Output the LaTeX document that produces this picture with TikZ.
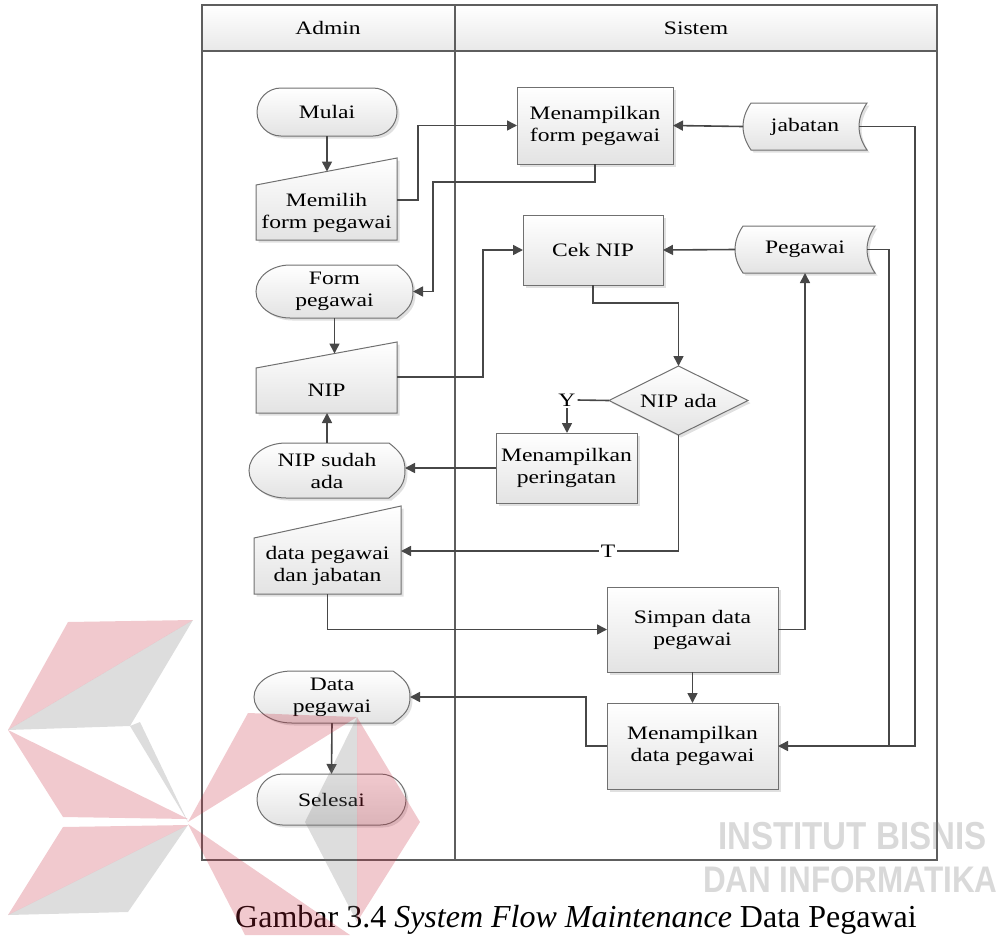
\documentclass[tikz,border=0pt]{standalone}
\usepackage{fontspec}
\setmainfont{Liberation Serif}[FakeStretch=1.24]
\newfontfamily\captionserif{Liberation Serif}
\newfontfamily\marksans{Liberation Sans}[FakeStretch=0.85]
\usetikzlibrary{arrows.meta,shadows,calc}
\pgfdeclarelayer{shapes}
\pgfsetlayers{shapes,main}

\definecolor{lineclr}{HTML}{474747}
\definecolor{boxclr}{HTML}{707070}
\definecolor{frameclr}{HTML}{5E5E5E}
\definecolor{shadeclr}{HTML}{E3E3E3}
\definecolor{markred}{HTML}{C8283C}
\definecolor{markgrey}{HTML}{787878}

% manual input: flat bottom, top edge rising to the right
\newcommand{\manualshape}[2]{%
  \path[boxfill] (#1.south west) -- (#1.north west) -- ($(#1.north east)+(0,-#2)$)
    -- (#1.south east) -- cycle;}

% display: rounded left end, curved right end
\newcommand{\displayshape}[3]{%
  \path[boxfill]
    ($(#1.north west)+(#2,0)$) -- ($(#1.north east)+(-#3,0)$)
    .. controls ($(#1.north east)!0.15!(#1.south east)+({-0.35*#3},0)$)
       and ($(#1.east)!0.5!(#1.north east)$) .. (#1.east)
    .. controls ($(#1.east)!0.5!(#1.south east)$)
       and ($(#1.south east)!0.15!(#1.north east)+({-0.35*#3},0)$) .. ($(#1.south east)+(-#3,0)$)
    -- ($(#1.south west)+(#2,0)$)
    .. controls ($(#1.south west)+({0.448*#2},0)$)
       and ($(#1.west)!0.552!(#1.south west)$) .. (#1.west)
    .. controls ($(#1.west)!0.552!(#1.north west)$)
       and ($(#1.north west)+({0.448*#2},0)$) .. ($(#1.north west)+(#2,0)$)
    -- cycle;}

% stored data: convex left side, concave right side
\newcommand{\storedshape}[2]{%
  \path[boxfill]
    ($(#1.north west)+(#2,0)$) -- (#1.north east)
    .. controls ($(#1.north east)!0.33!(#1.south east)+({-1.33*#2},0)$)
       and ($(#1.south east)!0.33!(#1.north east)+({-1.33*#2},0)$) .. (#1.south east)
    -- ($(#1.south west)+(#2,0)$)
    .. controls ($(#1.south west)!0.33!(#1.north west)+({-0.33*#2},0)$)
       and ($(#1.north west)!0.33!(#1.south west)+({-0.33*#2},0)$) .. ($(#1.north west)+(#2,0)$)
    -- cycle;}

\begin{document}
\begin{tikzpicture}[x=1pt,y=-1pt,
  every node/.style={inner sep=0pt, outer sep=0pt},
  txt/.style={font=\fontsize{19}{22}\selectfont, align=center},
  boxfill/.style={draw=boxclr, line width=1pt, top color=white, bottom color=shadeclr,
    drop shadow={shadow xshift=2.5pt, shadow yshift=-2.5pt, fill=black!40, opacity=0.3}},
  procbox/.style={boxfill, txt},
  area/.style={txt},
  flow/.style={draw=lineclr, line width=1.6pt, -{Triangle[length=10pt,width=10pt]}},
  link/.style={draw=lineclr, line width=1.6pt},
  lbl/.style={txt, inner sep=2pt},
  frameline/.style={draw=frameclr, line width=1.3pt},
  wmtext/.style={anchor=west, text=markgrey, text opacity=0.28},
]
\useasboundingbox (0,0) rectangle (1007,935);

% swimlane frame
\path[top color=white, bottom color=black!9] (202,5) rectangle (937,51);
\draw[frameline] (202,5) rectangle (937,860) (202,51) -- (937,51) (455,5) -- (455,860);
\node[txt] (hadmin) at (328,28) {Admin};
\node[txt] (hsistem) at (696,28) {Sistem};

% Admin lane
\node[procbox, rounded corners=24pt, minimum width=140pt, minimum height=48pt] (mulai) at (327,112) {Mulai};
\node[area, minimum width=141pt, minimum height=55pt] (mil) at (326.5,212.5) {Memilih\\form pegawai};
\node[area, minimum width=157pt, minimum height=53pt] (fp) at (334.5,291.5) {Form\\pegawai};
\node[area, minimum width=141pt, minimum height=45pt] (nip) at (326.5,390.5) {NIP};
\node[area, minimum width=156pt, minimum height=55pt] (nsa) at (327,470.5) {NIP sudah\\ada};
\node[area, minimum width=147pt, minimum height=56pt] (dpj) at (327.5,566) {data pegawai\\dan jabatan};
\node[area, minimum width=156pt, minimum height=52pt] (dp) at (332,697) {Data\\pegawai};
\node[procbox, rounded corners=25.5pt, minimum width=149pt, minimum height=51pt] (sel) at (331.5,799.5) {Selesai};

% Sistem lane
\node[procbox, minimum width=156pt, minimum height=77pt] (tf) at (595,125.5) {Menampilkan\\form pegawai};
\node[area, minimum width=124pt, minimum height=47pt] (jab) at (805,126.5) {jabatan};
\node[procbox, minimum width=140pt, minimum height=70pt] (cek) at (593,250) {Cek NIP};
\node[area, minimum width=140pt, minimum height=47pt] (peg) at (805,249.5) {Pegawai};
\node[area, minimum width=139pt, minimum height=69pt] (dia) at (678.5,400.5) {NIP ada};
\node[lbl] (yl) at (567,400) {Y};
\node[procbox, minimum width=141pt, minimum height=70pt] (per) at (566.5,468) {Menampilkan\\peringatan};
\node[lbl] (tl) at (608,551) {T};
\node[procbox, minimum width=171pt, minimum height=85pt] (simpan) at (692.5,629.5) {Simpan data\\pegawai};
\node[procbox, minimum width=171pt, minimum height=86pt] (tdp) at (692.5,746) {Menampilkan\\data pegawai};

% outlines of the non-rectangular symbols
\begin{pgfonlayer}{shapes}
  \manualshape{mil}{27}
  \manualshape{nip}{26}
  \manualshape{dpj}{32}
  \displayshape{fp}{34}{16}
  \displayshape{nsa}{37}{16}
  \displayshape{dp}{38}{17}
  \storedshape{jab}{8}
  \storedshape{peg}{8}
  \path[boxfill] (dia.north) -- (dia.east) -- (dia.south) -- (dia.west) -- cycle;
\end{pgfonlayer}

% entry points on the slanted tops
\coordinate (milin) at ($(mil.north)+(0,-13.5)$);
\coordinate (nipin) at ($(nip.north)+(0,-14.5)$);

% connectors
\draw[flow] (mulai.south) -- (mulai.south |- milin);
\draw[flow] ($(mil.east)+(0,-12.5)$) -- ++(21,0) |- (tf.west);
\draw[flow] (jab.west) -- (tf.east);
\draw[flow] (tf.south) -- ++(0,18) -| ($(fp.east)+(20,0)$) -- (fp.east);
\draw[flow] (fp.south) -- (fp.south |- nipin);
\draw[flow] ($(nip.east)+(0,-13.5)$) -- ++(86,0) |- (cek.west);
\draw[flow] (peg.west) -- (cek.east);
\draw[flow] (cek.south) -- ++(0,18) -| (dia.north);
\draw[link] (dia.west) -- (yl.east);
\draw[flow] (yl.south) -- (yl.south |- per.north);
\draw[flow] (per.west) -- (per.west -| nsa.east);
\draw[flow] (nsa.north) -- (nsa.north |- nip.south);
\draw[link] (dia.south) |- (tl.east);
\draw[flow] (tl.west) -- (tl.west -| dpj.east);
\draw[flow] (dpj.south) |- (simpan.west);
\draw[flow] (simpan.east) -| (peg.south);
\draw[flow] (simpan.south) -- (tdp.north);
\draw[link] ($(peg.east)+(-8,0)$) -| ($(tdp.east)+(111,0)$);
\draw[flow] ($(jab.east)+(-8,0)$) -- ++(56,0) |- (tdp.east);
\draw[flow] (tdp.west) -- ++(-21,0) |- (dp.east);
\draw[flow] (dp.south) -- (sel.north);

% caption
\node[font=\captionserif\fontsize{32}{36}\selectfont] (cap) at (576,920)
  {Gambar 3.4 \textit{System Flow Maintenance} Data Pegawai};

% faint institute mark
\begin{scope}[fill opacity=0.25]
  \fill[markred]  (68,622) -- (193,620) -- (8,730) -- cycle;
  \fill[markgrey] (193,620) -- (8,730) -- (130,726) -- cycle;
  \fill[markgrey] (130,726) -- (140,722) -- (188,822) -- cycle;
  \fill[markred]  (8,730) -- (188,819) -- (63,817) -- cycle;
  \fill[markred]  (248,713) -- (357,717) -- (188,822) -- cycle;
  \fill[markgrey] (357,717) -- (305,822) -- (357,922) -- cycle;
  \fill[markred]  (357,717) -- (420,822) -- (357,922) -- cycle;
  \fill[markred]  (188,824) -- (350,935) -- (245,935) -- cycle;
  \fill[markred]  (63,827) -- (188,825) -- (8,915) -- cycle;
  \fill[markgrey] (8,915) -- (128,912) -- (188,825) -- cycle;
\end{scope}
\node[wmtext, font=\marksans\bfseries\fontsize{39}{40}\selectfont] (wm1) at (718,836) {INSTITUT BISNIS};
\node[wmtext, font=\marksans\bfseries\fontsize{37}{38}\selectfont] (wm2) at (703,880) {DAN INFORMATIKA};
\end{tikzpicture}
\end{document}
